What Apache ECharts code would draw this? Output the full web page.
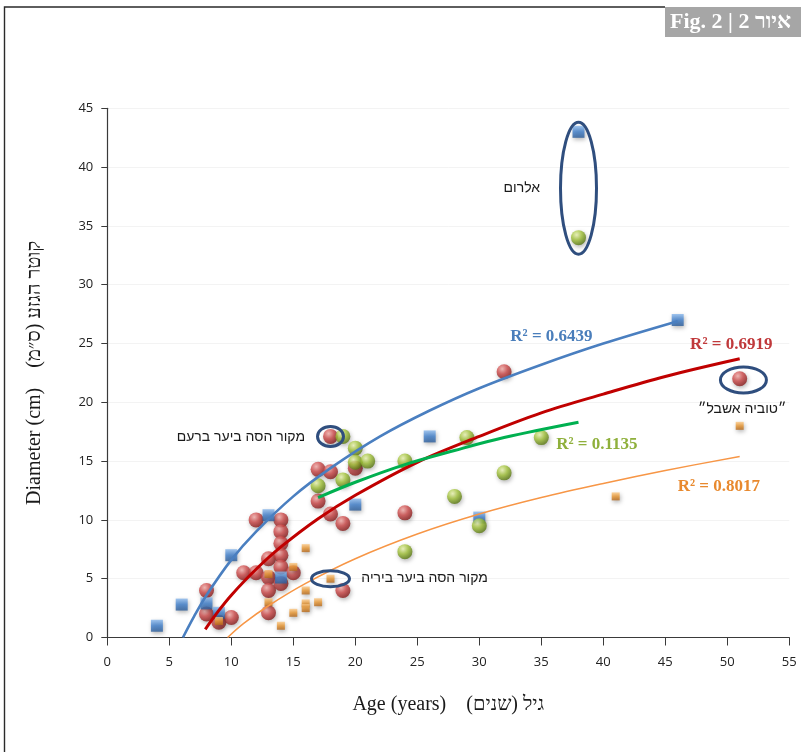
<!DOCTYPE html>
<html lang="he" dir="ltr">
<head>
<meta charset="utf-8">
<title>Fig. 2 | 2 איור</title>
<script src="https://cdn.jsdelivr.net/npm/echarts@6/dist/echarts.min.js"></script>
<style>
  html, body { margin: 0; padding: 0; background: #ffffff; }
  #chart { width: 801px; height: 752px; }
</style>
</head>
<body>
<div id="chart"></div>
<script>
// Tree age (years) against trunk diameter (cm), four stand groups

// Axis ranges and tick step
const ageRange = [0, 55];
const diamRange = [0, 45];
const tickStep = 5;

// Group 1 (blue squares)
const blueAge  = [4, 6, 8, 9, 10, 13, 14, 20, 26, 30, 38, 46];
const blueDiam = [1.0, 2.8, 2.9, 2.1, 7.0, 10.4, 5.1, 11.3, 17.1, 10.2, 43.0, 27.0];

// Group 2 (red balls)
const redAge  = [8, 8, 9, 10, 11, 12, 12, 13, 13, 13, 13, 14, 14, 14, 14, 14, 14, 15, 17, 17, 18, 18, 18, 19, 19, 20, 24, 32, 51];
const redDiam = [4.0, 2.0, 1.3, 1.7, 5.5, 10.0, 5.5, 6.7, 5.1, 4.0, 2.1, 10.0, 9.0, 8.0, 7.0, 6.0, 4.6, 5.5, 14.3, 11.6, 17.1, 14.1, 10.5, 9.7, 4.0, 14.4, 10.6, 22.6, 22.0];

// Group 3 (green balls)
const greenAge  = [17, 19, 19, 20, 20, 21, 24, 24, 28, 29, 30, 32, 35, 38];
const greenDiam = [12.9, 17.1, 13.4, 16.1, 14.9, 15.0, 15.0, 7.3, 12.0, 17.0, 9.5, 14.0, 17.0, 34.0];

// Group 4 (small orange squares)
const orangeAge  = [9, 13, 13, 14, 15, 15, 16, 16, 16, 16, 17, 18, 41, 51];
const orangeDiam = [1.4, 5.4, 3.0, 1.0, 6.0, 2.1, 7.6, 4.0, 2.9, 2.5, 3.0, 5.0, 12.0, 18.0];

// Logarithmic trend lines, sampled along each curve
const blueFitAge  = [6.1, 7, 8, 10, 12, 15, 18, 22, 26, 30, 35, 40, 46];
const blueFitDiam = [0, 1.8, 3.6, 6.6, 9.0, 12.0, 14.4, 17.1, 19.3, 21.2, 23.2, 25.0, 26.9];
const redFitAge  = [7.9, 9, 10, 12, 14, 17, 20, 25, 30, 35, 40, 45, 51];
const redFitDiam = [0.7, 2.3, 3.6, 5.8, 7.7, 10.1, 12.1, 14.9, 17.1, 19.1, 20.7, 22.2, 23.7];
const greenFitAge  = [17, 20, 24, 28, 32, 38];
const greenFitDiam = [11.9, 13.2, 14.7, 15.9, 17.0, 18.3];
const orangeFitAge  = [9.7, 11, 13, 16, 20, 25, 30, 35, 40, 45, 51];
const orangeFitDiam = [0, 1.2, 2.7, 4.6, 6.7, 8.8, 10.5, 11.9, 13.1, 14.2, 15.4];

// Coefficients of determination of the four fits
const fitR2 = ['0.6439', '0.6919', '0.1135', '0.8017'];

// Place names
const placeNames = ['אלרום', 'מקור הסה ביער ברעם', 'מקור הסה ביער ביריה', '״טוביה אשבל״'];

const pairs = (xs, ys) => xs.map((x, i) => [x, ys[i]]);

const G = echarts.graphic;
const ball = (hi, mid, lo) => new G.RadialGradient(0.38, 0.32, 0.68, [
  { offset: 0, color: hi }, { offset: 0.5, color: mid }, { offset: 1, color: lo }
]);
const tile = (hi, mid, lo) => new G.LinearGradient(0, 0, 0, 1, [
  { offset: 0, color: hi }, { offset: 0.5, color: mid }, { offset: 1, color: lo }
]);
const shade = { shadowBlur: 4, shadowColor: 'rgba(0,0,0,0.35)', shadowOffsetX: 1, shadowOffsetY: 2 };

const serif = '"Liberation Serif", "DejaVu Serif", serif';
const sans = '"Liberation Sans", "DejaVu Sans", sans-serif';

// Annotation rings: centre in data units, radii in pixels
const rings = [
  { at: [38, 38.2], rx: 18, ry: 66 },
  { at: [18, 17.1], rx: 13, ry: 10 },
  { at: [18, 5.0],  rx: 19, ry: 8 },
  { at: [51.3, 21.9], rx: 23, ry: 13 }
];

// Text notes: anchor in data units
const notes = [
  { at: [32.5, 25.6], text: 'R² = ' + fitR2[0], color: '#4a7ebb', font: 'bold 17px ' + serif, align: 'left' },
  { at: [47.0, 24.9], text: 'R² = ' + fitR2[1], color: '#c0393b', font: 'bold 17px ' + serif, align: 'left' },
  { at: [36.2, 16.4], text: 'R² = ' + fitR2[2], color: '#8fb03c', font: 'bold 17px ' + serif, align: 'left' },
  { at: [46.0, 12.8], text: 'R² = ' + fitR2[3], color: '#e8892e', font: 'bold 17px ' + serif, align: 'left' },
  { at: [34.9, 38.2], text: placeNames[0], color: '#1a1a1a', font: '14px ' + sans, align: 'right' },
  { at: [15.95, 17.05], text: placeNames[1], color: '#1a1a1a', font: '14px ' + sans, align: 'right' },
  { at: [30.7, 5.06], text: placeNames[2], color: '#1a1a1a', font: '14px ' + sans, align: 'right' },
  { at: [51.2, 19.4], text: placeNames[3], color: '#1a1a1a', font: '14px ' + sans, align: 'center' }
];

const axisColor = '#3a3a3a';

const chart = echarts.init(document.getElementById('chart'), null, { renderer: 'canvas' });

const trend = (name, xs, ys, color, width) => ({
  name, type: 'line', data: pairs(xs, ys), showSymbol: false, symbol: 'none',
  smooth: 0.35, z: 5, silent: true,
  lineStyle: { color, width, cap: 'butt' }
});

chart.setOption({
  backgroundColor: '#ffffff',
  animation: false,
  grid: { left: 107.3, right: 11.7, top: 108.3, bottom: 114.5, outerBoundsMode: 'none' },
  xAxis: {
    type: 'value', min: ageRange[0], max: ageRange[1], interval: tickStep,
    name: 'Age (years)    גיל (שנים)\u200F',
    nameLocation: 'middle', nameGap: 57,
    nameTextStyle: { fontFamily: serif, fontSize: 20, color: '#1a1a1a' },
    axisLine: { show: true, onZero: false, lineStyle: { color: axisColor, width: 1.2 } },
    axisTick: { show: true, inside: false, length: 8, lineStyle: { color: axisColor } },
    axisLabel: { margin: 18, color: '#222', fontFamily: '"Open Sans", "Noto Sans", sans-serif', fontSize: 13 },
    splitLine: { show: false }
  },
  yAxis: {
    type: 'value', min: diamRange[0], max: diamRange[1], interval: tickStep,
    name: 'Diameter (cm)    קוטר הגזע (ס״מ)\u200F',
    nameLocation: 'middle', nameGap: 63, nameRotate: 90,
    nameTextStyle: { fontFamily: serif, fontSize: 20, color: '#1a1a1a' },
    axisLine: { show: true, onZero: false, lineStyle: { color: axisColor, width: 1.2 } },
    axisTick: { show: true, inside: false, length: 6, lineStyle: { color: axisColor } },
    axisLabel: { margin: 14, color: '#222', fontFamily: '"Open Sans", "Noto Sans", sans-serif', fontSize: 13 },
    splitLine: { show: true, lineStyle: { color: '#f3f3f3', width: 1 } }
  },
  series: [
    {
      name: 'red', type: 'scatter', data: pairs(redAge, redDiam), symbol: 'circle', symbolSize: 15, z: 2,
      itemStyle: Object.assign({ color: ball('#f6b1ad', '#cf4a4a', '#8a1d1d') }, shade)
    },
    {
      name: 'blue', type: 'scatter', data: pairs(blueAge, blueDiam), symbol: 'rect', symbolSize: 12, z: 3,
      itemStyle: Object.assign({ color: tile('#8ab8ec', '#3f7fcc', '#2a5c9a') }, shade)
    },
    {
      name: 'green', type: 'scatter', data: pairs(greenAge, greenDiam), symbol: 'circle', symbolSize: 15, z: 3,
      itemStyle: Object.assign({ color: ball('#eef7b6', '#a3c43a', '#5c7a14') }, shade)
    },
    {
      name: 'orange', type: 'scatter', data: pairs(orangeAge, orangeDiam), symbol: 'rect', symbolSize: 8, z: 4,
      itemStyle: Object.assign({ color: tile('#fbc987', '#e8952f', '#b5681a') }, shade)
    },
    trend('blue fit', blueFitAge, blueFitDiam, '#4a7fc0', 2.6),
    trend('red fit', redFitAge, redFitDiam, '#c00000', 3),
    trend('green fit', greenFitAge, greenFitDiam, '#00b050', 3),
    trend('orange fit', orangeFitAge, orangeFitDiam, '#f79646', 1.5),
    {
      name: 'rings', type: 'custom', silent: true, z: 6, clip: false,
      data: rings.map(r => r.at),
      renderItem: (params, api) => {
        const p = api.coord([api.value(0), api.value(1)]);
        const r = rings[params.dataIndex];
        return {
          type: 'ellipse',
          shape: { cx: p[0], cy: p[1], rx: r.rx, ry: r.ry },
          style: { fill: 'none', stroke: '#2f4e7e', lineWidth: 3 }
        };
      }
    },
    {
      name: 'notes', type: 'custom', silent: true, z: 7, clip: false,
      data: notes.map(n => n.at),
      renderItem: (params, api) => {
        const p = api.coord([api.value(0), api.value(1)]);
        const n = notes[params.dataIndex];
        return {
          type: 'text', x: p[0], y: p[1],
          style: { text: n.text, fill: n.color, font: n.font, align: n.align, verticalAlign: 'middle' }
        };
      }
    }
  ],
  graphic: [
    {
      type: 'polyline', silent: true,
      shape: { points: [[4.5, 752], [4.5, 7], [665, 7]] },
      style: { stroke: '#2a2a2a', lineWidth: 1.4, fill: null }
    },
    {
      type: 'rect', silent: true,
      shape: { x: 665, y: 7, width: 136, height: 30 },
      style: { fill: '#a6a6a6' }
    },
    {
      type: 'text', silent: true, x: 670, y: 22,
      style: { text: 'Fig. 2 | 2 איור', fill: '#ffffff', font: 'bold 22px ' + serif, align: 'left', verticalAlign: 'middle' }
    }
  ]
});
</script>
</body>
</html>
